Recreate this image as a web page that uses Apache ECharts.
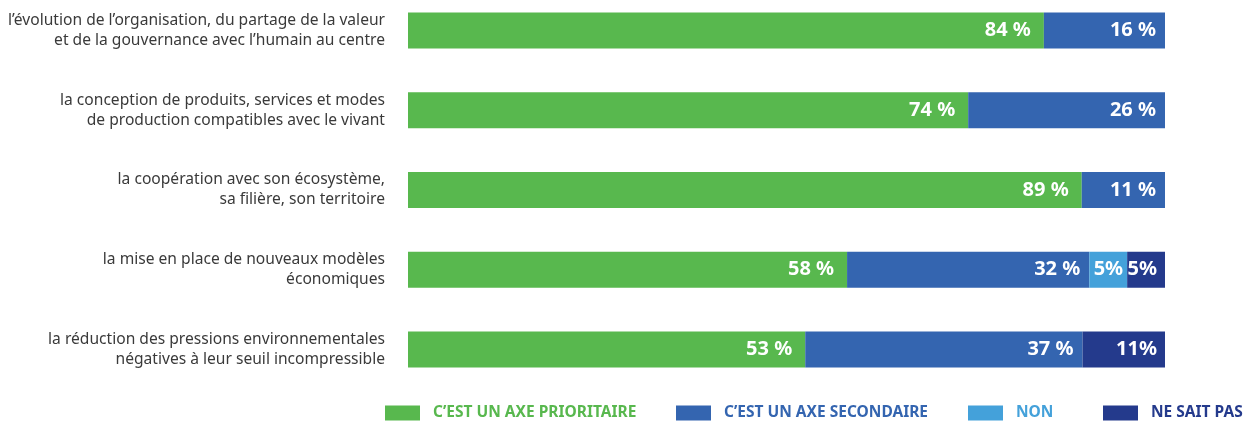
<!DOCTYPE html>
<html><head><meta charset="utf-8">
<script src="https://cdn.jsdelivr.net/npm/echarts@6/dist/echarts.min.js"></script>
<style>html,body{margin:0;padding:0;background:#fff;overflow:hidden}#c{width:1244px;height:431px;margin-top:-10px}</style>
</head><body><div id="c"></div>
<script>
const categories = [
  "l’évolution de l’organisation, du partage de la valeur\net de la gouvernance avec l’humain au centre",
  "la conception de produits, services et modes\nde production compatibles avec le vivant",
  "la coopération avec son écosystème,\nsa filière, son territoire",
  "la mise en place de nouveaux modèles\néconomiques",
  "la réduction des pressions environnementales\nnégatives à leur seuil incompressible"
];
const seriesNames = ["C’EST UN AXE PRIORITAIRE", "C’EST UN AXE SECONDAIRE", "NON", "NE SAIT PAS"];
const prioritaire = [84, 74, 89, 58, 53];
const secondaire  = [16, 26, 11, 32, 37];
const non         = [0, 0, 0, 5, 0];
const neSaitPas   = [0, 0, 0, 5, 11];
const labelPrioritaire = ["84 %", "74 %", "89 %", "58 %", "53 %"];
const labelSecondaire  = ["16 %", "26 %", "11 %", "32 %", "37 %"];
const labelNon         = ["", "", "", "5%", ""];
const labelNeSaitPas   = ["", "", "", "5%", "11%"];

const colors = ["#58b84e", "#3465b0", "#44a1da", "#243a8c"];
const raw = [prioritaire, secondaire, non, neSaitPas];
const labels = [labelPrioritaire, labelSecondaire, labelNon, labelNeSaitPas];
const totals = categories.map((_, i) => raw.reduce((s, a) => s + a[i], 0));
const distances = [13, 9, 4, 8];

const series = raw.map((arr, k) => ({
  name: seriesNames[k],
  type: 'bar',
  stack: 'total',
  barWidth: 36,
  itemStyle: { color: colors[k] },
  data: arr.map((v, i) => v / totals[i] * 100),
  label: {
    show: true,
    position: 'insideRight',
    distance: distances[k],
    color: '#fff',
    fontFamily: 'Noto Sans',
    fontWeight: 'bold',
    fontSize: 20,
    formatter: p => labels[k][p.dataIndex]
  }
}));

const legendLefts = [385, 676, 968, 1103];
const legends = seriesNames.map((n, k) => ({
  data: [n],
  left: legendLefts[k],
  top: 415,
  padding: 0,
  itemWidth: 35,
  itemHeight: 15,
  itemGap: 0,
  icon: 'rect',
  textStyle: { color: colors[k], fontFamily: 'Noto Sans', fontWeight: 'bold', fontSize: 15.5, padding: [0, 0, 0, 8] }
}));

const chart = echarts.init(document.getElementById('c'), null, { renderer: 'canvas' });
chart.setOption({
  animation: false,
  grid: { left: 408, right: 79, top: 0.75, bottom: 31.75 },
  xAxis: { type: 'value', min: 0, max: 100, show: false },
  yAxis: {
    type: 'category', inverse: true, data: categories,
    axisLine: { show: false }, axisTick: { show: false },
    axisLabel: { margin: 23, color: '#3a3a3a', fontFamily: 'Noto Sans', fontSize: 15.6, lineHeight: 20, align: 'right' }
  },
  legend: legends,
  series: series
});
</script></body></html>
